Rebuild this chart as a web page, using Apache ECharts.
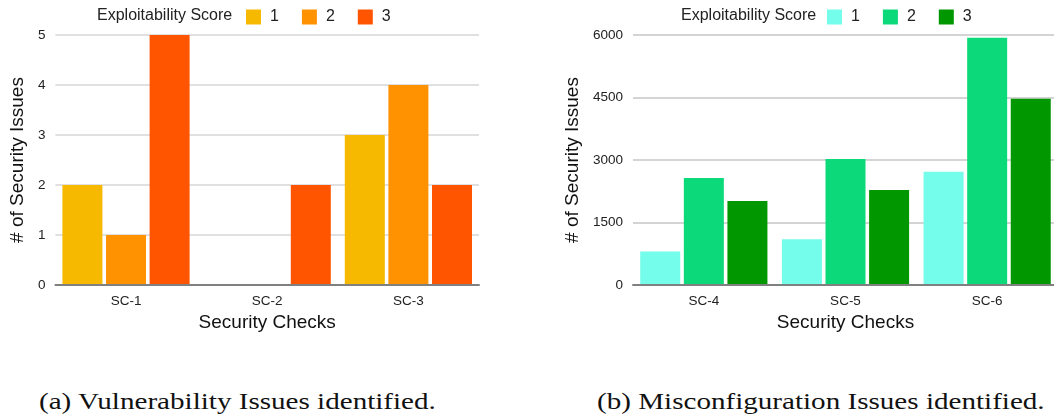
<!DOCTYPE html>
<html>
<head>
<meta charset="utf-8">
<script src="https://cdn.jsdelivr.net/npm/echarts@6/dist/echarts.min.js"></script>
<style>
  html, body { margin: 0; padding: 0; background: #fff; overflow: hidden; width: 1054px; height: 417px; }
  #a { position: absolute; left: 0; top: 0; width: 527px; height: 340px; }
  #b { position: absolute; left: 527px; top: 0; width: 535px; height: 340px; }
  .cap { position: absolute; top: 387px; font-family: "Liberation Serif", "DejaVu Serif", serif; font-size: 23px; color: #111; white-space: nowrap; line-height: 30px; transform: scaleX(1.265); transform-origin: 0 50%; }
</style>
</head>
<body>
<div id="a"></div>
<div id="b"></div>
<div class="cap" id="capA" style="left:39px;">(a) Vulnerability Issues identified.</div>
<div class="cap" id="capB" style="left:597px;">(b) Misconfiguration Issues identified.</div>
<script>
// ---- data ----
const legendTitle = "Exploitability Score";
const scoreNames = ["1", "2", "3"];
const xTitle = "Security Checks";
const yTitle = "# of Security Issues";

const vulnCategories = ["SC-1", "SC-2", "SC-3"];
const vulnScore1 = [2, 0, 3];
const vulnScore2 = [1, 0, 4];
const vulnScore3 = [5, 2, 2];

const misCategories = ["SC-4", "SC-5", "SC-6"];
const misScore1 = [806, 1096, 2717];
const misScore2 = [2571, 3026, 5935];
const misScore3 = [2015, 2281, 4469];

const vulnColors = ["#F6B900", "#FF9200", "#FF5500"];
const misColors = ["#73FDEA", "#0CD97A", "#009700"];

const FONT = "Liberation Sans, Arial, Helvetica, sans-serif";

function buildOption(cfg) {
  const seriesData = cfg.values;
  return {
    animation: false,
    textStyle: { fontFamily: FONT },
    graphic: [{
      type: "text",
      left: cfg.legendTextLeft,
      top: 8,
      style: { text: legendTitle, font: "16px " + FONT, fill: "#222" }
    }],
    legend: {
      left: cfg.legendLeft,
      top: 9,
      padding: 0,
      itemWidth: 15,
      itemHeight: 15,
      itemGap: 23,
      icon: "rect",
      selectedMode: false,
      textStyle: { fontSize: 16, color: "#222", fontFamily: FONT, padding: [0, 0, 0, 4] },
      data: scoreNames
    },
    grid: {
      left: cfg.gridLeft,
      right: cfg.gridRight,
      top: 35,
      height: 250,
      containLabel: false
    },
    xAxis: {
      type: "category",
      data: cfg.categories,
      name: xTitle,
      nameLocation: "middle",
      nameGap: 23,
      nameTextStyle: { fontSize: 19, color: "#111", fontFamily: FONT },
      axisTick: { show: false },
      axisLine: { show: true, lineStyle: { color: "#808080", width: 2 } },
      axisLabel: { fontSize: 13.5, color: "#222", margin: 9, fontFamily: FONT },
      z: 10
    },
    yAxis: {
      type: "value",
      min: 0,
      max: cfg.max,
      interval: cfg.interval,
      name: yTitle,
      nameLocation: "middle",
      nameGap: cfg.nameGap,
      nameTextStyle: { fontSize: 19, color: "#111", fontFamily: FONT },
      axisLine: { show: false },
      axisTick: { show: false },
      axisLabel: { fontSize: 13.5, color: "#222", margin: 10, fontFamily: FONT, formatter: v => String(v) },
      splitLine: { lineStyle: { color: cfg.gridColor, width: 1.5 } }
    },
    series: scoreNames.map((n, i) => ({
      name: n,
      type: "bar",
      data: seriesData[i],
      barWidth: 40,
      barGap: "9%",
      itemStyle: { color: cfg.colors[i] }
    }))
  };
}

const chartA = echarts.init(document.getElementById("a"), null, { renderer: "canvas" });
chartA.setOption(buildOption({
  categories: vulnCategories,
  values: [vulnScore1, vulnScore2, vulnScore3],
  colors: vulnColors,
  max: 5, interval: 1,
  gridLeft: 52, gridRight: 48,
  nameGap: 27,
  gridColor: "#d6d6d6",
  legendTextLeft: 97,
  legendLeft: 246
}));

const chartB = echarts.init(document.getElementById("b"), null, { renderer: "canvas" });
chartB.setOption(buildOption({
  categories: misCategories,
  values: [misScore1, misScore2, misScore3],
  colors: misColors,
  max: 6000, interval: 1500,
  gridLeft: 106, gridRight: 4,
  nameGap: 48,
  gridColor: "#c6c6c6",
  legendTextLeft: 681 - 527,
  legendLeft: 827 - 527
}));
</script>
</body>
</html>
